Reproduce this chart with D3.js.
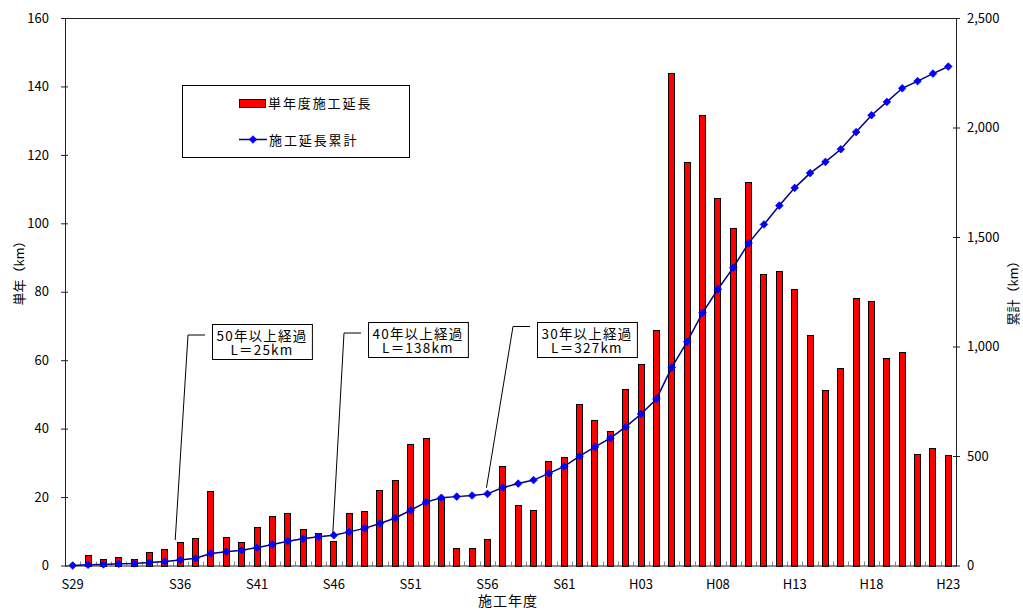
<!DOCTYPE html>
<html>
<head>
<meta charset="utf-8">
<script src="https://cdn.jsdelivr.net/npm/d3@7"></script>
<style>
  body { margin: 0; background: #fff; }
  svg { display: block; }
  text { font-family: "Noto Sans CJK JP", "Noto Sans", sans-serif; fill: #000; }
</style>
</head>
<body>
<svg id="chart" width="1023" height="610"></svg>
<script>
// 施工年度 (昭和29年度〜平成23年度)
const years = [
  'S29','S30','S31','S32','S33','S34','S35','S36','S37','S38',
  'S39','S40','S41','S42','S43','S44','S45','S46','S47','S48',
  'S49','S50','S51','S52','S53','S54','S55','S56','S57','S58',
  'S59','S60','S61','S62','S63','H01','H02','H03','H04','H05',
  'H06','H07','H08','H09','H10','H11','H12','H13','H14','H15',
  'H16','H17','H18','H19','H20','H21','H22','H23'
];

// 単年度施工延長 (km)
const annualLength = [
  0.0, 3.2, 1.8, 2.6, 2.0, 3.8, 4.8, 6.8, 8.0, 21.8,
  8.3, 7.0, 11.2, 14.5, 15.4, 10.6, 9.4, 7.1, 15.3, 16.0,
  22.2, 24.9, 35.5, 37.2, 20.0, 5.1, 5.1, 7.6, 29.0, 17.8,
  16.1, 30.4, 31.8, 47.1, 42.4, 39.4, 51.5, 59.0, 68.8, 144.0,
  117.8, 131.7, 107.5, 98.6, 112.0, 85.3, 86.0, 80.9, 67.4, 51.3,
  57.7, 78.2, 77.3, 60.6, 62.3, 32.7, 34.3, 32.2
];

// 施工延長累計 (km)
const cumulativeLength = [
  0, 3.2, 5.0, 7.6, 9.6, 13.4, 18.2, 25, 33.0, 54.8,
  63.1, 70.1, 81.3, 95.8, 111.2, 121.8, 131.2, 138, 153.6, 169.6,
  191.8, 216.7, 252.2, 289.4, 309.4, 314.5, 319.6, 327, 356.2, 374.0,
  390.1, 420.5, 452.3, 499.4, 541.8, 581.2, 632.7, 691.7, 760.5, 904.5,
  1022.3, 1154.0, 1261.5, 1360.1, 1472.1, 1557.4, 1643.4, 1724.3, 1791.7, 1843.0,
  1900.7, 1978.9, 2056.2, 2116.8, 2179.1, 2211.8, 2246.1, 2278.3
];

const xTickLabels = ['S29','S36','S41','S46','S51','S56','S61','H03','H08','H13','H18','H23'];
const leftTicks = [0, 20, 40, 60, 80, 100, 120, 140, 160];
const rightTicks = [0, 500, 1000, 1500, 2000, 2500];
const seriesNames = ['単年度施工延長', '施工延長累計'];
const axisTitles = { x: '施工年度', left: '単年（km）', right: '累計（km）' };

// 経過年数の区切り
const milestones = [
  { year: 'S36', elapsed: 50 },
  { year: 'S46', elapsed: 40 },
  { year: 'S56', elapsed: 30 }
];

const svg = d3.select('#chart');
const plot = { left: 65, right: 956, top: 18, bottom: 565.5 };

const x = d3.scaleBand()
  .domain(years)
  .range([plot.left, plot.right])
  .paddingInner(0.545)
  .paddingOuter(0.2725);
const yLeft = d3.scaleLinear().domain([0, 160]).range([plot.bottom, plot.top]);
const yRight = d3.scaleLinear().domain([0, 2500]).range([plot.bottom, plot.top]);
const cx = y => x(y) + x.bandwidth() / 2;

// 軸
const fmt = d3.format(',');
const gLeft = svg.append('g').attr('transform', `translate(${plot.left},0)`)
  .call(d3.axisLeft(yLeft).tickValues(leftTicks).tickSize(4).tickPadding(12));
gLeft.selectAll('.tick line').clone().attr('x2', 3);
const gRight = svg.append('g').attr('transform', `translate(${plot.right},0)`)
  .call(d3.axisRight(yRight).tickValues(rightTicks).tickFormat(fmt).tickSize(4).tickPadding(7));
gRight.selectAll('.tick line').clone().attr('x2', -3);
const gBottom = svg.append('g').attr('transform', `translate(0,${plot.bottom})`)
  .call(d3.axisBottom(x).tickValues(xTickLabels).tickSize(0).tickPadding(14));
[gLeft, gRight, gBottom].forEach(g => {
  g.select('.domain').remove();
  g.selectAll('.tick line').attr('stroke', '#222');
  g.selectAll('text').attr('font-size', 13).attr('font-family', '"Noto Sans CJK JP", sans-serif').attr('fill', '#000');
});

// 年度区切りの目盛
const gap = (x.step() - x.bandwidth()) / 2;
svg.append('g').selectAll('line')
  .data(years.slice(1))
  .join('line')
  .attr('x1', d => Math.round(x(d) - gap) + 0.5)
  .attr('x2', d => Math.round(x(d) - gap) + 0.5)
  .attr('y1', plot.bottom)
  .attr('y2', plot.bottom - 4)
  .attr('stroke', '#888');

// 棒 (単年度施工延長)
svg.append('g').selectAll('rect')
  .data(years.map((y, i) => ({ y, v: annualLength[i] })).filter(d => d.v > 0))
  .join('rect')
  .attr('x', d => Math.round(x(d.y)) + 0.5)
  .attr('y', d => Math.round(yLeft(d.v)) + 0.5)
  .attr('width', Math.round(x.bandwidth()) - 1)
  .attr('height', d => Math.round(plot.bottom) - Math.round(yLeft(d.v)))
  .attr('fill', '#ff0000')
  .attr('stroke', '#000')
  .attr('stroke-width', 1);

// 外枠
svg.append('rect')
  .attr('x', plot.left + 0.5).attr('y', plot.top + 0.5)
  .attr('width', plot.right - plot.left).attr('height', plot.bottom - plot.top)
  .attr('fill', 'none').attr('stroke', '#222').attr('stroke-width', 1);

// 累計線
const pts = years.map((y, i) => [cx(y), yRight(cumulativeLength[i])]);
svg.append('path')
  .attr('d', d3.line()(pts))
  .attr('fill', 'none')
  .attr('stroke', '#000080')
  .attr('stroke-width', 1.5);
const diamond = (px, py, r) => `M${px},${py - r}L${px + r},${py}L${px},${py + r}L${px - r},${py}Z`;
svg.append('g').selectAll('path')
  .data(pts)
  .join('path')
  .attr('d', d => diamond(d[0], d[1], 3.8))
  .attr('fill', '#0000ff')
  .attr('stroke', '#0000ff')
  .attr('stroke-width', 0.8);

// 凡例
const lg = svg.append('g');
lg.append('rect').attr('x', 182.5).attr('y', 85.5).attr('width', 227).attr('height', 72)
  .attr('fill', '#fff').attr('stroke', '#000');
lg.append('rect').attr('x', 239.5).attr('y', 99.5).attr('width', 26).attr('height', 8)
  .attr('fill', '#ff0000').attr('stroke', '#000');
lg.append('text').attr('x', 268).attr('y', 108).attr('font-size', 13).style('letter-spacing', '1.9px')
  .text(seriesNames[0]);
lg.append('line').attr('x1', 239).attr('x2', 267).attr('y1', 139.5).attr('y2', 139.5)
  .attr('stroke', '#000080').attr('stroke-width', 1.5);
lg.append('path').attr('d', diamond(253, 139.5, 3.8)).attr('fill', '#0000ff').attr('stroke', '#0000ff').attr('stroke-width', 0.8);
lg.append('text').attr('x', 269).attr('y', 144.5).attr('font-size', 13).style('letter-spacing', '1.9px')
  .text(seriesNames[1]);

// 経過年数の注記
const boxPos = [[212, 324], [368, 322], [537, 322]];
const leaderY = [335, 333, 326.5];
const tipOffset = [[-5, -20], [-1, -2], [-1, -6]];
milestones.forEach((m, k) => {
  const i = years.indexOf(m.year);
  const [bx, by] = boxPos[k];
  const g = svg.append('g');
  const tx = cx(m.year) + tipOffset[k][0];
  const ty = yRight(cumulativeLength[i]) + tipOffset[k][1];
  g.append('path')
    .attr('d', `M${bx - 7},${leaderY[k]}L${bx - 24},${leaderY[k]}L${tx},${ty}`)
    .attr('fill', 'none').attr('stroke', '#000').attr('stroke-width', 1);
  const txt = g.append('text').attr('font-size', 13.5).attr('text-anchor', 'middle')
    .style('letter-spacing', '1.2px');
  const s1 = txt.append('tspan').text(`${m.elapsed}年以上経過`);
  const s2 = txt.append('tspan').text(`L＝${Math.round(cumulativeLength[i])}km`);
  const w = Math.max(s1.node().getComputedTextLength(), s2.node().getComputedTextLength()) + 9;
  g.insert('rect', 'text').attr('x', bx + 0.5).attr('y', by + 0.5).attr('width', w).attr('height', 35)
    .attr('fill', '#fff').attr('stroke', '#000');
  s1.attr('x', bx + w / 2).attr('y', by + 16.5);
  s2.attr('x', bx + w / 2).attr('y', by + 31);
});

// 軸タイトル
svg.append('text').attr('transform', 'translate(24,270) rotate(-90)')
  .attr('text-anchor', 'middle').attr('font-size', 13).text(axisTitles.left);
svg.append('text').attr('transform', 'translate(1018,290) rotate(-90)')
  .attr('text-anchor', 'middle').attr('font-size', 13).text(axisTitles.right);
svg.append('text').attr('x', 508).attr('y', 606)
  .attr('text-anchor', 'middle').attr('font-size', 14).style('letter-spacing', '1px').text(axisTitles.x);
</script>
</body>
</html>
